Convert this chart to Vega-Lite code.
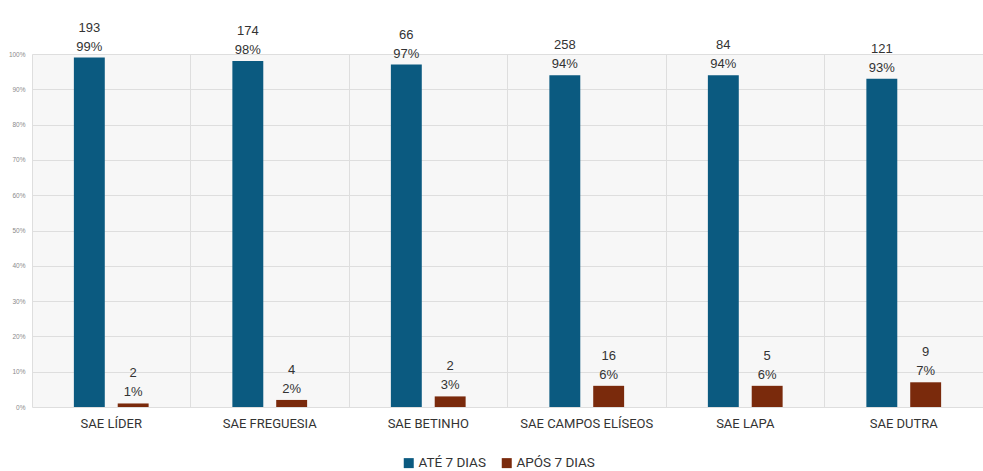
{
  "$schema": "https://vega.github.io/schema/vega-lite/v6.json",
  "autosize": "none",
  "width": 951,
  "height": 353,
  "padding": {"left": 32, "top": 54, "right": 0, "bottom": 64},
  "background": "#ffffff",
  "config": {
    "view": {"fill": "#f7f7f7", "stroke": null},
    "font": "Roboto"
  },
  "data": {
    "values": [
      {"site": "SAE LÍDER", "series": "ATÉ 7 DIAS", "pct": 0.99, "n": 193},
      {"site": "SAE LÍDER", "series": "APÓS 7 DIAS", "pct": 0.01, "n": 2},
      {"site": "SAE FREGUESIA", "series": "ATÉ 7 DIAS", "pct": 0.98, "n": 174},
      {"site": "SAE FREGUESIA", "series": "APÓS 7 DIAS", "pct": 0.02, "n": 4},
      {"site": "SAE BETINHO", "series": "ATÉ 7 DIAS", "pct": 0.97, "n": 66},
      {"site": "SAE BETINHO", "series": "APÓS 7 DIAS", "pct": 0.03, "n": 2},
      {"site": "SAE CAMPOS ELÍSEOS", "series": "ATÉ 7 DIAS", "pct": 0.94, "n": 258},
      {"site": "SAE CAMPOS ELÍSEOS", "series": "APÓS 7 DIAS", "pct": 0.06, "n": 16},
      {"site": "SAE LAPA", "series": "ATÉ 7 DIAS", "pct": 0.94, "n": 84},
      {"site": "SAE LAPA", "series": "APÓS 7 DIAS", "pct": 0.06, "n": 5},
      {"site": "SAE DUTRA", "series": "ATÉ 7 DIAS", "pct": 0.93, "n": 121},
      {"site": "SAE DUTRA", "series": "APÓS 7 DIAS", "pct": 0.07, "n": 9}
    ]
  },
  "encoding": {
    "xOffset": {"field": "series", "type": "nominal", "sort": null, "scale": {"paddingInner": 0.295, "paddingOuter": 0.955}},
    "y": {
      "field": "pct", "type": "quantitative",
      "scale": {"domain": [0, 1], "nice": false},
      "axis": {
        "title": null, "format": ".0%", "values": [0, 0.1, 0.2, 0.3, 0.4, 0.5, 0.6, 0.7, 0.8, 0.9, 1],
        "labelFontSize": 6.5, "labelColor": "#8a8a8a", "labelFont": "Liberation Sans",
        "ticks": false, "domain": false, "labelPadding": 7,
        "gridColor": "#dedede", "gridWidth": 1
      }
    }
  },
  "layer": [
    {
      "mark": {"type": "bar"},
      "encoding": {
        "x": {
          "field": "site", "type": "nominal", "sort": null,
          "scale": {"paddingInner": 0, "paddingOuter": 0},
          "axis": {"title": null, "labelAngle": 0, "grid": false, "ticks": false, "domain": false, "labelFontSize": 13, "labelColor": "#333333", "labelPadding": 10}
        },
        "color": {
          "field": "series", "type": "nominal", "sort": null,
          "scale": {"domain": ["ATÉ 7 DIAS", "APÓS 7 DIAS"], "range": ["#0b5a80", "#7a2a0c"]},
          "legend": {
            "title": null, "orient": "none", "legendX": 370, "legendY": 402, "direction": "horizontal",
            "symbolType": "square", "symbolSize": 100, "symbolStrokeWidth": 0,
            "labelFontSize": 13.5, "labelColor": "#333333", "labelOffset": 3, "columnPadding": 14
          }
        }
      }
    },
    {
      "mark": {"type": "text", "dy": -11, "fontSize": 13, "font": "Liberation Sans", "color": "#333333"},
      "encoding": {
        "x": {
          "field": "site", "type": "nominal", "sort": null,
          "axis": {"title": null, "grid": true, "bandPosition": 0, "labels": false, "ticks": false, "domain": false, "gridColor": "#dedede"}
        },
        "text": {"field": "pct", "type": "quantitative", "format": ".0%"}
      }
    },
    {
      "mark": {"type": "text", "dy": -30, "fontSize": 13, "font": "Liberation Sans", "color": "#333333"},
      "encoding": {
        "x": {"field": "site", "type": "nominal", "sort": null, "axis": null},
        "text": {"field": "n", "type": "quantitative"}
      }
    }
  ],
  "resolve": {"axis": {"x": "independent"}}
}
